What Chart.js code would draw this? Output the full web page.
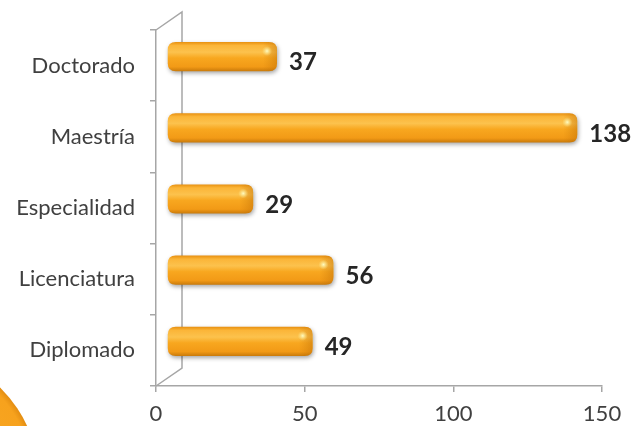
<!DOCTYPE html>
<html>
<head>
<meta charset="utf-8">
<script src="https://cdn.jsdelivr.net/npm/chart.js@4/dist/chart.umd.min.js"></script>
<style>
html,body{margin:0;padding:0;background:#fff;}
#wrap{width:637px;height:426px;position:relative;}
</style>
</head>
<body>
<div id="wrap"><canvas id="c"></canvas></div>
<script>
const categories = ["Doctorado", "Maestría", "Especialidad", "Licenciatura", "Diplomado"];
const values = [37, 138, 29, 56, 49];
const xTicks = [0, 50, 100, 150];

const DX = 11, DY = -9;   // 3D depth offset
const FONT = "Lato, 'Open Sans', sans-serif";

function roundRect(ctx, x, y, w, h, r) {
  r = Math.min(r, h / 2, w / 2);
  ctx.beginPath();
  ctx.moveTo(x + r, y);
  ctx.lineTo(x + w - r, y);
  ctx.quadraticCurveTo(x + w, y, x + w, y + r);
  ctx.lineTo(x + w, y + h - r);
  ctx.quadraticCurveTo(x + w, y + h, x + w - r, y + h);
  ctx.lineTo(x + r, y + h);
  ctx.quadraticCurveTo(x, y + h, x, y + h - r);
  ctx.lineTo(x, y + r);
  ctx.quadraticCurveTo(x, y, x + r, y);
  ctx.closePath();
}

const decor = {
  id: 'decor',
  beforeDraw(chart) {
    const ctx = chart.ctx;
    ctx.save();
    const g = ctx.createRadialGradient(-90, 480, 60, -90, 480, 130);
    g.addColorStop(0, '#F9A825');
    g.addColorStop(0.9, '#F7A21D');
    g.addColorStop(1, '#E08A10');
    ctx.fillStyle = g;
    ctx.beginPath();
    ctx.arc(-90, 480, 129, 0, Math.PI * 2);
    ctx.fill();
    ctx.restore();
  },
  beforeDatasetsDraw(chart) {
    const ctx = chart.ctx;
    const a = chart.chartArea;
    ctx.save();
    ctx.strokeStyle = '#A6A6A6';
    ctx.lineWidth = 1.5;
    ctx.beginPath();
    ctx.moveTo(a.left, a.top);
    ctx.lineTo(a.left + 26, a.top - 18);
    ctx.lineTo(a.left + 26, a.bottom - 18);
    ctx.lineTo(a.left, a.bottom);
    ctx.stroke();
    ctx.restore();
  },
  afterDatasetsDraw(chart) {
    const ctx = chart.ctx;
    const meta = chart.getDatasetMeta(0);
    meta.data.forEach((el, i) => {
      const p = el.getProps(['x', 'y', 'base', 'height'], true);
      const x0 = p.base + DX, x1 = p.x + DX;
      const h = p.height;
      const y0 = p.y + DY - h / 2;
      const w = x1 - x0;
      ctx.save();
      ctx.shadowColor = 'rgba(0,0,0,0.35)';
      ctx.shadowBlur = 4;
      ctx.shadowOffsetX = 1;
      ctx.shadowOffsetY = 2;
      const g = ctx.createLinearGradient(0, y0, 0, y0 + h);
      g.addColorStop(0, '#E8900F');
      g.addColorStop(0.12, '#FBB538');
      g.addColorStop(0.35, '#FCC24D');
      g.addColorStop(0.55, '#F8A71F');
      g.addColorStop(0.85, '#F29A16');
      g.addColorStop(1, '#C97A0A');
      ctx.fillStyle = g;
      roundRect(ctx, x0, y0, w, h, 8);
      ctx.fill();
      ctx.restore();
      ctx.save();
      roundRect(ctx, x0, y0, w, h, 8);
      ctx.clip();
      const g2 = ctx.createLinearGradient(x1 - 14, 0, x1, 0);
      g2.addColorStop(0, 'rgba(200,120,10,0)');
      g2.addColorStop(1, 'rgba(190,110,5,0.45)');
      ctx.fillStyle = g2;
      ctx.fillRect(x1 - 14, y0, 14, h);
      const rg = ctx.createRadialGradient(x1 - 10, y0 + 9, 0, x1 - 10, y0 + 9, 5);
      rg.addColorStop(0, 'rgba(255,255,200,0.95)');
      rg.addColorStop(1, 'rgba(255,240,150,0)');
      ctx.fillStyle = rg;
      ctx.fillRect(x1 - 16, y0, 14, 16);
      ctx.restore();
      ctx.save();
      ctx.font = "bold 24px " + FONT;
      ctx.fillStyle = '#262626';
      ctx.textBaseline = 'middle';
      ctx.textAlign = 'left';
      ctx.fillText(String(values[i]), x1 + 12, p.y - 3);
      ctx.restore();
    });
  }
};

new Chart(document.getElementById('c'), {
  type: 'bar',
  data: {
    labels: categories,
    datasets: [{
      data: values,
      backgroundColor: 'rgba(0,0,0,0)',
      borderWidth: 0,
      barPercentage: 0.41,
      categoryPercentage: 1
    }]
  },
  options: {
    indexAxis: 'y',
    responsive: true,
    maintainAspectRatio: false,
    animation: false,
    layout: { padding: { top: 30, right: 35, left: 0, bottom: 0 } },
    plugins: { legend: { display: false }, tooltip: { enabled: false } },
    scales: {
      y: {
        grid: { drawOnChartArea: false, color: '#A6A6A6', tickLength: 6, lineWidth: 1.5, offset: true },
        border: { color: '#A6A6A6', width: 1.5 },
        ticks: { color: '#404040', font: { family: FONT, size: 22 }, padding: 15 },
        afterFit(s) { s.width = 156; }
      },
      x: {
        min: 0, max: 150,
        afterBuildTicks(s) { s.ticks = xTicks.map(v => ({ value: v })); },
        grid: { drawOnChartArea: false, color: '#A6A6A6', tickLength: 6, lineWidth: 1.5 },
        border: { color: '#A6A6A6', width: 1.5 },
        ticks: { color: '#404040', font: { family: FONT, size: 22 }, padding: 9 },
        afterFit(s) { s.height = 40; }
      }
    }
  },
  plugins: [decor]
});
</script>
</body>
</html>
